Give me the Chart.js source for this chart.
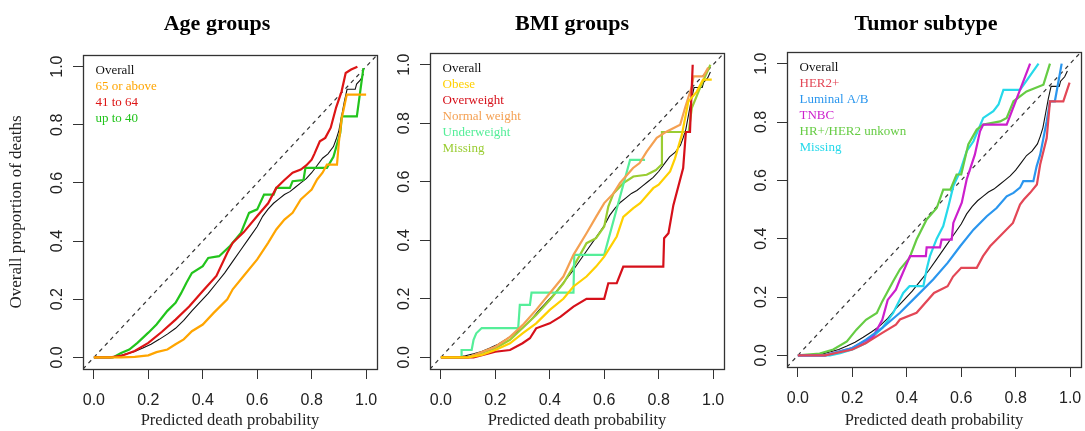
<!DOCTYPE html>
<html>
<head>
<meta charset="utf-8">
<script src="https://cdn.jsdelivr.net/npm/chart.js@4.4.1/dist/chart.umd.min.js"></script>
<style>
  body { margin: 0; background: #fff; width: 1085px; height: 431px; overflow: hidden; position: relative; }
  .panel { position: absolute; top: 0; }
</style>
</head>
<body>
<div class="panel" style="left:0px"><canvas id="ageChart" width="434" height="431"></canvas></div>
<div class="panel" style="left:380px"><canvas id="bmiChart" width="384" height="431"></canvas></div>
<div class="panel" style="left:746px"><canvas id="tumorChart" width="360" height="431"></canvas></div>
<script>
"use strict";

// axis ticks (same on both axes of every panel)
const tickVals = [0, 0.2, 0.4, 0.6, 0.8, 1.0];

// overall curve, shared by the three panels
const overallX = [0, .03, .06, .09, .12, .15, .18, .21, .24, .27, .30, .33, .36, .39, .42, .45, .48, .51, .54, .57, .60, .62, .64, .66, .68, .70, .72, .74, .76, .78, .80, .82, .84, .86, .88, .89, .90, .91, .92, .93, .96, .965, .98, .99];
const overallY = [0, 0, 0, .005, .012, .02, .032, .045, .062, .08, .1, .127, .16, .19, .22, .255, .29, .33, .37, .41, .45, .485, .51, .53, .545, .56, .57, .585, .6, .615, .635, .66, .685, .7, .725, .75, .78, .83, .88, .922, .922, .94, .955, .975];

// Age groups
const age65X = [0, .1, .15, .2, .23, .27, .3, .33, .36, .4, .44, .49, .51, .55, .6, .64, .67, .70, .73, .76, .78, .8, .82, .84, .856, .893, .9, .91, .929, 1.0];
const age65Y = [0, 0, .002, .007, .018, .027, .045, .062, .09, .113, .153, .2, .234, .28, .337, .394, .44, .474, .497, .543, .56, .577, .612, .635, .663, .663, .74, .82, .904, .904];
const age41X = [0, .06, .1, .15, .2, .25, .3, .35, .4, .45, .49, .51, .55, .6, .64, .67, .7, .73, .76, .78, .8, .81, .83, .85, .87, .89, .91, .925, .945, .968];
const age41Y = [0, 0, .005, .022, .05, .088, .13, .175, .228, .28, .36, .394, .43, .486, .53, .583, .61, .635, .646, .66, .68, .7, .743, .755, .79, .86, .915, .978, .99, 1.0];
const age40X = [0, .07, .1, .13, .16, .2, .23, .27, .3, .32, .34, .36, .4, .42, .46, .5, .54, .57, .6, .625, .66, .67, .72, .73, .77, .777, .856, .88, .905, .911, .966, .99];
const age40Y = [0, 0, .015, .027, .05, .085, .113, .16, .188, .22, .257, .29, .314, .342, .348, .383, .428, .497, .509, .56, .56, .583, .583, .606, .61, .652, .652, .69, .772, .829, .829, .995];

// BMI groups
const obeseX = [0, .1, .15, .2, .254, .3, .35, .4, .45, .487, .535, .57, .6, .646, .67, .707, .732, .78, .8, .842, .86, .885, .909, .94, .963, .995];
const obeseY = [0, 0, .008, .025, .048, .082, .116, .162, .2, .242, .276, .31, .344, .413, .48, .51, .527, .578, .59, .635, .68, .76, .874, .908, .949, .949];
const overX = [0, .12, .2, .254, .3, .327, .35, .4, .44, .487, .535, .6, .615, .646, .67, .817, .82, .836, .854, .89, .9, .915, .925];
const overY = [0, 0, .019, .025, .048, .065, .099, .116, .139, .173, .2, .2, .253, .253, .31, .31, .407, .424, .52, .647, .77, .77, 1.0];
const normalX = [0, .1, .2, .254, .3, .35, .4, .45, .487, .535, .57, .6, .634, .658, .706, .73, .756, .793, .83, .879, .897, .922, .928, .964, .982];
const normalY = [0, 0, .036, .07, .11, .162, .219, .276, .35, .424, .48, .527, .56, .596, .647, .664, .703, .75, .772, .795, .853, .926, .96, .96, .99];
const underX = [0, .076, .076, .113, .12, .13, .15, .284, .29, .327, .333, .487, .49, .6, .695, .75];
const underY = [0, 0, .025, .025, .06, .082, .1, .1, .179, .179, .221, .221, .35, .35, .675, .675];
const bmiMissX = [0, .1, .2, .254, .3, .35, .4, .45, .487, .535, .57, .6, .615, .634, .67, .707, .756, .79, .81, .812, .91, .922, .952, .99];
const bmiMissY = [0, 0, .031, .06, .1, .145, .196, .253, .31, .39, .407, .447, .515, .56, .595, .618, .624, .64, .658, .77, .77, .853, .921, 1.0];

// Tumor subtype
const her2X = [0, .1, .2, .25, .31, .36, .375, .436, .5, .55, .57, .6, .657, .68, .706, .743, .79, .816, .83, .853, .878, .89, .914, .926, .975, .998];
const her2Y = [0, 0, .02, .042, .077, .105, .123, .146, .214, .237, .27, .3, .3, .34, .374, .409, .454, .517, .534, .557, .586, .654, .745, .871, .871, .935];
const lumX = [0, .1, .2, .25, .31, .36, .375, .436, .497, .55, .596, .645, .694, .73, .767, .792, .816, .828, .865, .877, .89, .914, .926, .944, .969];
const lumY = [0, 0, .025, .054, .094, .134, .146, .203, .26, .317, .374, .431, .477, .505, .545, .557, .575, .597, .597, .648, .688, .802, .871, .871, 1.0];
const tnbcX = [0, .1, .2, .277, .31, .33, .36, .375, .412, .47, .473, .522, .528, .565, .571, .602, .62, .65, .669, .681, .767, .853];
const tnbcY = [0, 0, .025, .065, .122, .19, .225, .26, .34, .34, .37, .37, .397, .397, .454, .523, .603, .688, .768, .791, .791, 1.0];
const hrX = [0, .08, .13, .18, .215, .25, .29, .31, .35, .375, .41, .436, .473, .51, .534, .56, .583, .6, .626, .657, .681, .743, .767, .792, .84, .902, .926];
const hrY = [0, .006, .02, .048, .088, .122, .145, .185, .254, .295, .334, .397, .466, .505, .568, .568, .62, .62, .723, .774, .791, .802, .814, .871, .905, .928, 1.0];
const tumMissX = [0, .118, .155, .2, .25, .31, .35, .387, .41, .461, .473, .485, .51, .534, .553, .571, .596, .62, .645, .681, .718, .737, .755, .816, .884];
const tumMissY = [0, 0, .007, .02, .042, .094, .145, .214, .237, .237, .295, .34, .4, .443, .511, .58, .631, .7, .734, .814, .837, .86, .91, .91, 1.0];

function pts(xs, ys) {
    return xs.map((x, i) => ({ x: x, y: ys[i] }));
}

// a curve of the calibration plot
function curve(label, xs, ys, color, width, rank) {
    return {
        label: label,
        data: pts(xs, ys),
        borderColor: color,
        backgroundColor: color,
        borderWidth: width,
        pointRadius: 0,
        tension: 0,
        fill: false,
        legendRank: rank
    };
}

// dashed identity line across the whole box
function diagonal() {
    return {
        label: "",
        data: [{ x: -0.04, y: -0.04 }, { x: 1.04, y: 1.04 }],
        borderColor: "#333",
        borderWidth: 1.2,
        borderDash: [4, 4],
        pointRadius: 0,
        fill: false
    };
}

// draws the frame round the plot region
const boxPlugin = {
    id: "box",
    afterDraw(chart) {
        const a = chart.chartArea;
        const ctx = chart.ctx;
        ctx.save();
        ctx.strokeStyle = "#333";
        ctx.lineWidth = 1.3;
        ctx.strokeRect(Math.round(a.left) + 0.5, Math.round(a.top) + 0.5,
            Math.round(a.right - a.left), Math.round(a.bottom - a.top));
        ctx.restore();
    }
};

function makePanel(id, title, groups, p) {
    const datasets = groups.slice();
    datasets.push(curve("Overall", overallX, overallY, "#111", 1.1, 0));
    datasets.push(diagonal());

    const tickFont = { family: "'Liberation Sans', Arial, sans-serif", size: 16 };
    const serif = "'Liberation Serif', 'Times New Roman', serif";

    new Chart(document.getElementById(id), {
        type: "line",
        data: { datasets: datasets },
        plugins: [boxPlugin],
        options: {
            responsive: false,
            animation: false,
            devicePixelRatio: 1,
            layout: { padding: 0 },
            plugins: {
                tooltip: { enabled: false },
                title: {
                    display: true,
                    text: title,
                    color: "#000",
                    font: { family: serif, size: 22, weight: "bold" },
                    padding: { top: 11, bottom: p.top - 37.4 }
                },
                legend: {
                    position: "chartArea",
                    align: "start",
                    // the vertical legend starts at the canvas top, the empty title pushes it into the box
                    title: { display: true, text: "", font: { size: 1, lineHeight: 1 }, padding: { top: p.top + 5, bottom: 0 } },
                    labels: {
                        boxWidth: 3,
                        padding: 3,
                        font: { family: serif, size: 13 },
                        generateLabels: chart => chart.data.datasets
                            .map((ds, i) => ({ ds: ds, i: i }))
                            .filter(o => o.ds.legendRank !== undefined)
                            .sort((a, b) => a.ds.legendRank - b.ds.legendRank)
                            .map(o => ({
                                text: o.ds.label,
                                fontColor: o.ds.borderColor,
                                fillStyle: "rgba(0,0,0,0)",
                                strokeStyle: "rgba(0,0,0,0)",
                                lineWidth: 0,
                                hidden: false,
                                datasetIndex: o.i
                            }))
                    }
                }
            },
            scales: {
                x: {
                    type: "linear",
                    min: -0.04,
                    max: 1.04,
                    afterBuildTicks: s => { s.ticks = tickVals.map(v => ({ value: v })); },
                    afterFit: s => { s.height = 431 - p.bottom; },
                    border: { display: false },
                    grid: { drawOnChartArea: false, drawTicks: true, tickLength: 10, tickColor: "#333" },
                    ticks: { font: tickFont, color: "#222", padding: 12, maxRotation: 0, autoSkip: false,
                        callback: v => v.toFixed(1) },
                    title: { display: true, text: "Predicted death probability", color: "#222",
                        font: { family: serif, size: 16.5 }, padding: { top: 0, bottom: 0 } }
                },
                y: {
                    type: "linear",
                    min: -0.04,
                    max: 1.04,
                    afterBuildTicks: s => { s.ticks = tickVals.map(v => ({ value: v })); },
                    afterFit: s => { s.width = p.yw; },
                    border: { display: false },
                    grid: { drawOnChartArea: false, drawTicks: true, tickLength: 10, tickColor: "#333" },
                    ticks: { font: tickFont, color: "#222", padding: 4, minRotation: 90, maxRotation: 90,
                        crossAlign: "center", autoSkip: false, callback: v => v.toFixed(1) },
                    title: { display: !!p.yTitle, text: p.yTitle || "", color: "#222",
                        font: { family: serif, size: 17 }, padding: { top: 6, bottom: 0 } }
                },
                yr: {
                    type: "linear",
                    position: "right",
                    afterFit: s => { s.width = p.rw; },
                    border: { display: false },
                    grid: { display: false },
                    ticks: { display: false }
                }
            }
        }
    });
}

makePanel("ageChart", "Age groups", [
    curve("65 or above", age65X, age65Y, "#FFA500", 2.2, 1),
    curve("41 to 64", age41X, age41Y, "#DD1515", 2.2, 2),
    curve("up to 40", age40X, age40Y, "#22C41C", 2.2, 3)
], { yw: 83, rw: 57, top: 55, bottom: 369, yTitle: "Overall proportion of deaths" });

makePanel("bmiChart", "BMI groups", [
    curve("Obese", obeseX, obeseY, "#FFD000", 2.2, 1),
    curve("Overweight", overX, overY, "#D6101A", 2.2, 2),
    curve("Normal weight", normalX, normalY, "#F4A052", 2.2, 3),
    curve("Underweight", underX, underY, "#55EE99", 2.2, 4),
    curve("Missing", bmiMissX, bmiMissY, "#9ACD32", 2.2, 5)
], { yw: 50, rw: 40, top: 53, bottom: 369 });

makePanel("tumorChart", "Tumor subtype", [
    curve("HER2+", her2X, her2Y, "#E34756", 2.2, 1),
    curve("Luminal A/B", lumX, lumY, "#2A96EE", 2.2, 2),
    curve("TNBC", tnbcX, tnbcY, "#CC1FCC", 2.2, 3),
    curve("HR+/HER2 unkown", hrX, hrY, "#66CC44", 2.2, 4),
    curve("Missing", tumMissX, tumMissY, "#26D9EA", 2.2, 5)
], { yw: 41, rw: 25, top: 52, bottom: 367 });
</script>
</body>
</html>
